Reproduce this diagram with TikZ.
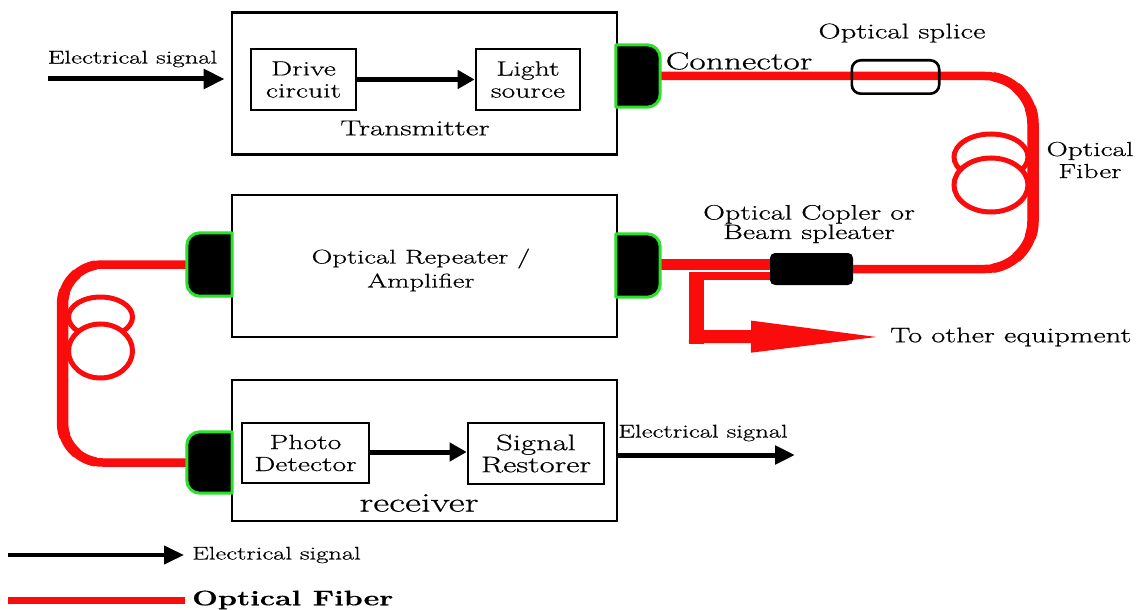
\documentclass[tikz,border=0pt]{standalone}
\usepackage{fontspec}
\setmainfont{Latin Modern Roman}[FakeStretch=1.45, FakeBold=0.6]
\usetikzlibrary{arrows.meta}
\definecolor{fib}{RGB}{250,12,12}
\definecolor{grn}{RGB}{40,225,40}
\newcommand{\fsz}[2]{\fontsize{#1}{#2}\selectfont}
% tapering overlays of the vertical fibre runs
\newcommand{\rtaper}[2]{\draw[draw=fib, line width=#1] plot[domain=#2:0, samples=16] ({985+48*cos(\x)},{124-48*sin(\x)}) -- plot[domain=0:#2, samples=16] ({985+48*cos(\x)},{221+48*sin(\x)});}
\newcommand{\ltaper}[2]{\draw[draw=fib, line width=#1] plot[domain=#2:0, samples=16] ({102.5-40*cos(\x)},{304.5-40*sin(\x)}) -- plot[domain=0:#2, samples=16] ({102.5-40*cos(\x)},{422.5+40*sin(\x)});}
\begin{document}
\begin{tikzpicture}[x=1pt,y=-1pt,
  bigbox/.style={draw, line width=2.6pt, minimum width=385pt, minimum height=142pt, inner sep=0pt},
  smallbox/.style={draw, line width=2.6pt, inner sep=0pt, align=center},
  lab/.style={inner sep=0pt, align=center},
  earrow/.style={line width=5pt, -{Triangle[length=21pt,width=19pt]}},
  fiber/.style={draw=fib, line width=8.5pt},
  coil/.style={draw=fib, line width=5pt},
  connbox/.style={inner sep=0pt},
  conn/.style={fill=black, draw=grn, line width=3pt, line join=round}
]
\useasboundingbox (0,0) rectangle (1144,610);

% ---------- main boxes ----------
\node[bigbox] (tx) at (424.5,83.5) {};
\node[bigbox] (rp) at (424.5,266) {};
\node[bigbox, minimum height=141pt] (rx) at (424.5,450.5) {};

% transmitter inner
\node[smallbox, minimum width=105pt, minimum height=61pt, font=\fsz{20.5}{22}] (dc) at (303.5,79.5) {Drive\\circuit};
\node[smallbox, minimum width=104pt, minimum height=61pt, font=\fsz{20.5}{22}] (ls) at (528,79.5) {Light\\source};
\draw[earrow, -{Triangle[length=17pt,width=18pt]}] (dc) -- (ls);
\node[lab, font=\fsz{21.6}{22}] (txl) at (415,128) {Transmitter};

% repeater
\node[lab, font=\fsz{19.8}{24}] (rpl) at (421,270) {Optical Repeater /\\Amplifier};

% receiver inner
\node[smallbox, minimum width=127pt, minimum height=60pt, font=\fsz{20.5}{22}] (pd) at (305.5,453) {Photo\\Detector};
\node[smallbox, minimum width=136pt, minimum height=61pt, font=\fsz{22.5}{22}] (sr) at (536,453.5) {Signal\\Restorer};
\draw[earrow, -{Triangle[length=17pt,width=18pt]}] (pd.east |- 0,452) -- (sr.west |- 0,452);
\node[lab, font=\fsz{27}{28}] (rxl) at (419,503) {receiver};

% ---------- electrical signals ----------
\coordinate (in0) at (48,79);
\node[lab, font=\fsz{18.4}{20}] (inl) at (132.5,59) {Electrical signal};
\draw[earrow, shorten >=6pt] (in0) -- (tx.west |- in0);

\coordinate (out1) at (795,455);
\node[lab, font=\fsz{18.4}{20}] (outl) at (703,433) {Electrical signal};
\draw[earrow, -{Triangle[length=20pt,width=18pt]}] (rx.east |- out1) -- (out1);

% ---------- fibers ----------
% right coil
\draw[coil] (991,157) ellipse [x radius=37pt, y radius=23pt];
\filldraw[coil, fill=white] (991,185) ellipse [x radius=37pt, y radius=27pt];
% left coil
\draw[coil] (100.5,317) ellipse [x radius=32pt, y radius=20pt];
\filldraw[coil, fill=white] (100.5,351) ellipse [x radius=32pt, y radius=27pt];

% connector positions
\node[connbox, minimum width=44pt, minimum height=62pt] (c1) at (638,76) {};
\node[connbox, minimum width=44pt, minimum height=63pt] (cr) at (638,265.5) {};
\node[connbox, minimum width=45pt, minimum height=63pt] (cl) at (209.5,264.5) {};
\node[connbox, minimum width=45pt, minimum height=61pt] (cx) at (209.5,462.5) {};

% coupler and splice
\node[inner sep=0pt, minimum width=83pt, minimum height=32pt, rounded corners=5pt, fill=black] (cp) at (811.5,269) {};
\node[inner sep=0pt, minimum width=87pt, minimum height=33pt, rounded corners=9pt] (sp) at (895.5,77) {};

% right fiber loop
\draw[fiber, rounded corners=48pt] (c1.east) -- (1033,76) -- (1033,269) -- (cp.east);
\rtaper{9.5pt}{80}
\rtaper{10.5pt}{50}
\rtaper{11.5pt}{20}
% repeater to coupler
\draw[draw=fib, line width=11pt] (cr.east |- 0,264) -- (cp.west |- 0,264);
% branch to other equipment
\node[lab, anchor=west, font=\fsz{21}{22}] (oe) at (890,337) {To other equipment};
\draw[draw=fib, line width=8pt] (cp.west |- 0,276) -- (689,276);
\draw[draw=fib, line width=15pt] (696.5,272) -- (696.5,343.5);
\draw[draw=fib, line width=13pt, shorten >=0pt, -{Triangle[length=139pt,width=28pt]}] (689,336.5) -- (oe.west);

% left fiber
\draw[fiber, rounded corners=40pt] (cl.west) -- (62.5,264.5) -- (62.5,462.5) -- (cx.west);
\ltaper{9.5pt}{80}
\ltaper{10.5pt}{50}
\ltaper{11.5pt}{20}

% splice outline over fiber
\draw[line width=2.6pt, rounded corners=9pt] (sp.north west) rectangle (sp.south east);

% connectors (drawn last)
\draw[conn] (c1.north west) [rounded corners=13pt] -- (c1.north east) -- (c1.south east) [sharp corners] -- (c1.south west) -- cycle;
\draw[conn] (cr.north west) [rounded corners=13pt] -- (cr.north east) -- (cr.south east) [sharp corners] -- (cr.south west) -- cycle;
\draw[conn] (cl.north east) [rounded corners=13pt] -- (cl.north west) -- (cl.south west) [sharp corners] -- (cl.south east) -- cycle;
\draw[conn] (cx.north east) [rounded corners=13pt] -- (cx.north west) -- (cx.south west) [sharp corners] -- (cx.south east) -- cycle;

% ---------- fiber labels ----------
\node[lab, font=\fsz{24.5}{24}] (conl) at (739,61) {Connector};
\node[lab, font=\fsz{21.2}{22}] (spl) at (902,33) {Optical splice};
\node[lab, font=\fsz{20.3}{22}] (ofl) at (1090,160) {Optical\\Fiber};
\node[lab, font=\fsz{20.8}{17}] (cpl) at (809,224) {Optical Copler or\\Beam spleater};

% ---------- legend ----------
\coordinate (lg1) at (8,555);
\node[lab, anchor=west, font=\fsz{18.3}{20}] (le) at (192,555) {Electrical signal};
\draw[line width=4pt, shorten >=8pt, -{Triangle[length=20pt,width=18pt]}] (lg1) -- (le.west);
\coordinate (lg2) at (8,600);
\node[lab, anchor=west, font=\fsz{21}{22}\bfseries] (lf) at (192,600) {Optical Fiber};
\draw[draw=fib, line width=7pt, shorten >=7pt] (lg2) -- (lf.west);
\end{tikzpicture}
\end{document}
